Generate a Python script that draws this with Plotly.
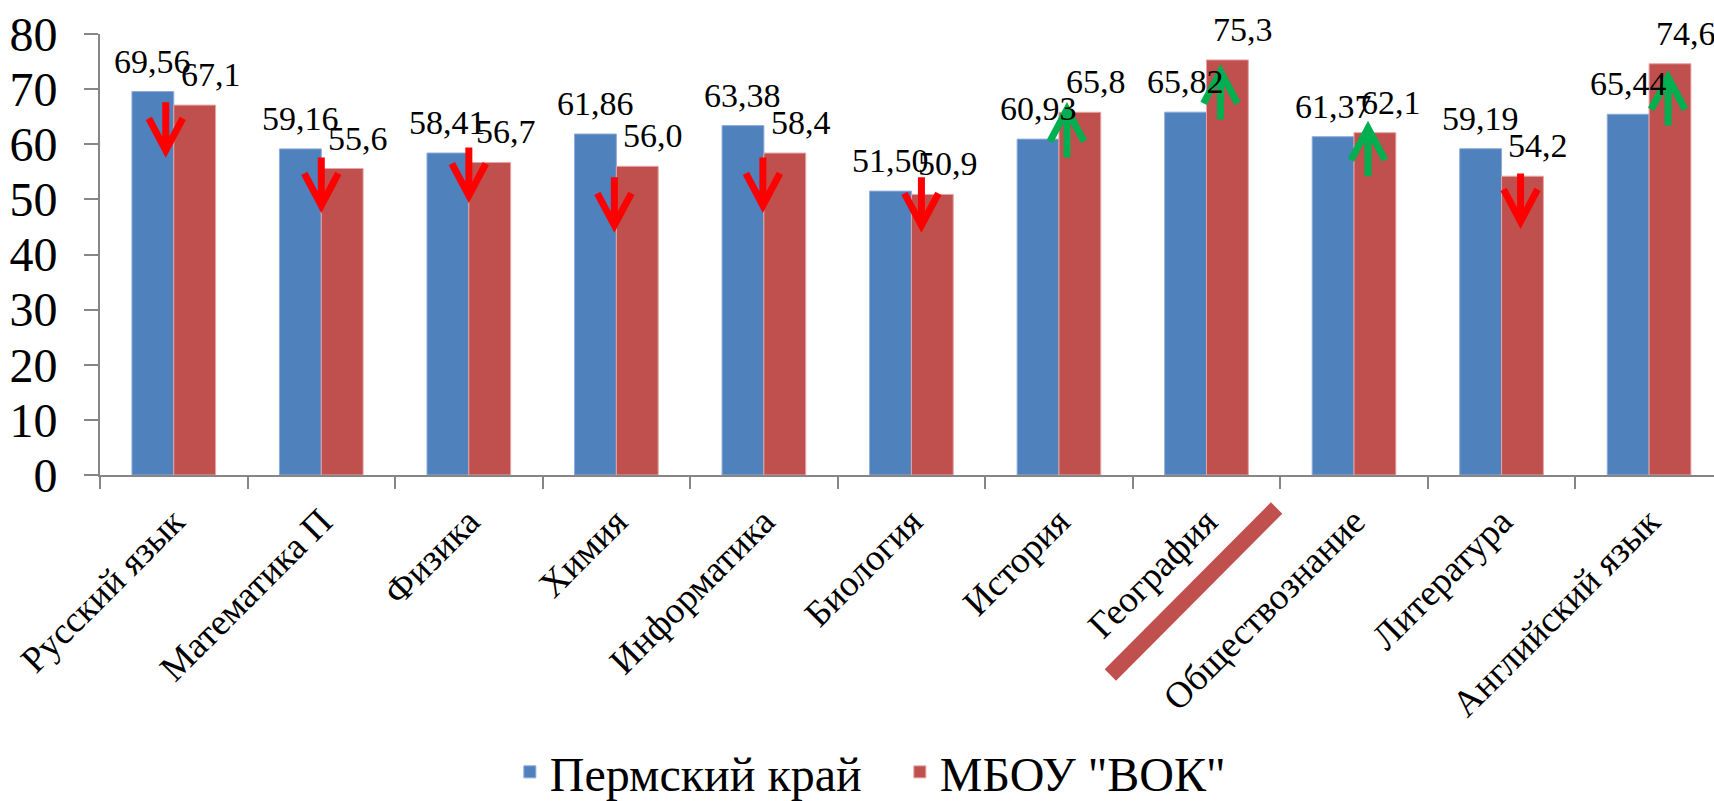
import plotly.graph_objects as go

categories = ["Русский язык", "Математика П", "Физика", "Химия", "Информатика",
              "Биология", "История", "География", "Обществознание", "Литература",
              "Английский язык"]
perm_values = [69.56, 59.16, 58.41, 61.86, 63.38, 51.50, 60.93, 65.82, 61.37, 59.19, 65.44]
school_values = [67.1, 55.6, 56.7, 56.0, 58.4, 50.9, 65.8, 75.3, 62.1, 54.2, 74.6]
series_names = ["Пермский край", "МБОУ \"ВОК\""]

# hand-drawn arrow overlays (tail value on the y scale, horizontal nudge in px)
arrow_start = [67.6, 57.6, 59.4, 54.0, 57.6, 54.0, 57.6, 64.5, 54.2, 54.7, 63.4]
arrow_dx = [-8, 0, 0, -2, -1, 10, 8, 14, 14, 19, 19]

BLUE = "#4F81BD"
RED = "#C0504D"
FONT = "'Liberation Serif', 'DejaVu Serif', serif"
NUMFONT = "'Liberation Serif', 'DejaVu Serif', serif"
BARGAP = 0.433
half = (1 - BARGAP) / 4  # offset of each bar centre from category centre

fig = go.Figure()
fig.add_trace(go.Bar(x=categories, y=perm_values, name=series_names[0],
                     marker=dict(color=BLUE, line=dict(color="#8FAADC", width=1))))
fig.add_trace(go.Bar(x=categories, y=school_values, name=series_names[1],
                     marker=dict(color=RED, line=dict(color="#E6A5A3", width=1))))

annotations = []
for i, (p, s) in enumerate(zip(perm_values, school_values)):
    annotations.append(dict(x=i - half, y=p, xref="x", yref="y",
                            text=f"{p:.2f}".replace(".", ","), showarrow=False,
                            yanchor="bottom", xanchor="center", yshift=10,
                            font=dict(family=NUMFONT, size=34, color="black")))
    annotations.append(dict(x=i + half, y=s, xref="x", yref="y",
                            text=f"{s:.1f}".replace(".", ","), showarrow=False,
                            yanchor="bottom", xanchor="center", yshift=10, xshift=16,
                            font=dict(family=NUMFONT, size=34, color="black")))

shapes = []
for i, (p, s) in enumerate(zip(perm_values, school_values)):
    if s < p:
        path = "M0,0 L0,-48 M-17,-16 L0,-48 L17,-16"
        col = "#FF0000"
    else:
        path = "M0,0 L0,48 M-17,16 L0,48 L17,16"
        col = "#00B050"
    shapes.append(dict(type="path", xref="x", yref="y", xsizemode="pixel",
                       ysizemode="pixel", xanchor=i + arrow_dx[i] / 147.5,
                       yanchor=arrow_start[i], path=path,
                       line=dict(color=col, width=7)))

shapes.append(dict(type="line", xref="paper", yref="paper",
                   x0=0.626, y0=-0.4535, x1=0.729, y1=-0.0748,
                   line=dict(color=RED, width=16)))

fig.update_layout(
    width=1714, height=801,
    margin=dict(l=100, r=0, t=34, b=326, autoexpand=False),
    paper_bgcolor="white", plot_bgcolor="white",
    barmode="group", bargap=BARGAP, bargroupgap=0,
    font=dict(family=FONT, color="black"),
    showlegend=True,
    legend=dict(orientation="h", xref="container", yref="container",
                x=0.525, y=0.036, xanchor="center", yanchor="middle",
                font=dict(family=FONT, size=48, color="black"),
                itemwidth=30, entrywidth=345, traceorder="normal"),
    annotations=annotations,
    shapes=shapes,
)
fig.update_xaxes(range=[-0.5, 10.44], showline=True, linecolor="#868686", linewidth=2,
                 ticks="outside", tickson="boundaries", ticklen=12, tickwidth=2,
                 tickcolor="#868686", tickangle=-45, showgrid=False, automargin=False,
                 ticklabelstandoff=8,
                 tickfont=dict(family=FONT, size=37, color="black"))
fig.update_yaxes(range=[0, 80], dtick=10, showline=True, linecolor="#868686", linewidth=2,
                 ticks="outside", ticklen=14, tickwidth=2, tickcolor="#868686",
                 showgrid=False, zeroline=False, automargin=False, ticklabelstandoff=17,
                 tickfont=dict(family=NUMFONT, size=48, color="black"))

fig.write_html("out.html", config={"displayModeBar": False},
               post_script="document.body.style.margin='0';document.body.style.overflow='hidden';")
